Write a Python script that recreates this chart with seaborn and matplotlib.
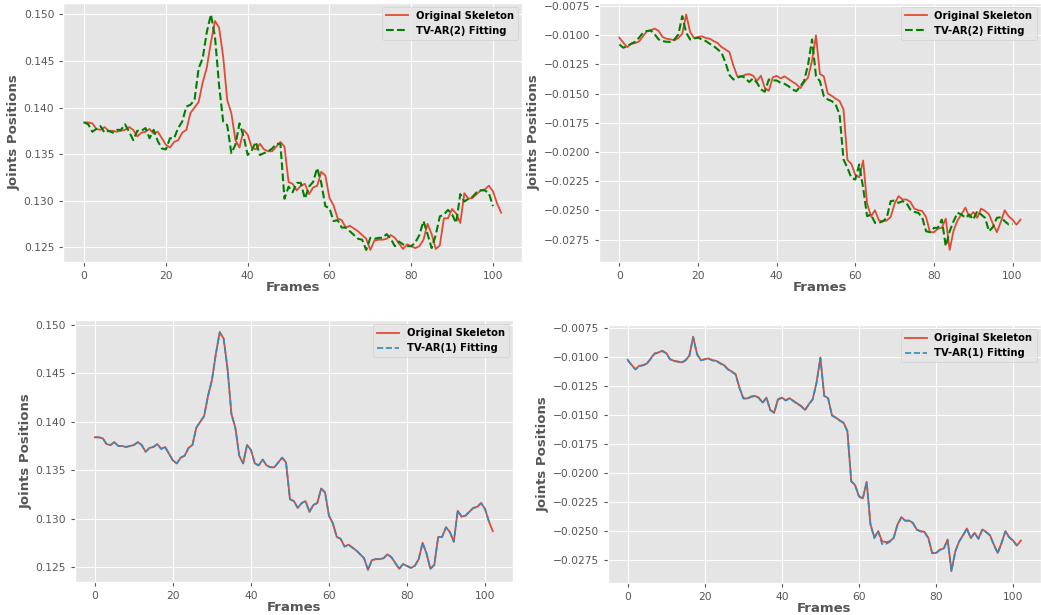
import matplotlib
matplotlib.use("Agg")
import matplotlib.pyplot as plt
import seaborn as sns
import numpy as np

# ---------------- data ----------------
orig_a = [0.1384, 0.1384, 0.1383, 0.1377, 0.1376, 0.1379, 0.1375, 0.1375, 0.1374, 0.1375,
          0.1376, 0.1379, 0.1376, 0.1369, 0.1373, 0.1374, 0.1377, 0.1372, 0.1374, 0.1367,
          0.1360, 0.1357, 0.1363, 0.1365, 0.1373, 0.1376, 0.1394, 0.1400, 0.1406, 0.1427,
          0.1443, 0.1470, 0.1493, 0.1486, 0.1455, 0.1408, 0.1394, 0.1365, 0.1357, 0.1376,
          0.1371, 0.1357, 0.1355, 0.1361, 0.1355, 0.1353, 0.1353, 0.1358, 0.1363, 0.1358,
          0.1320, 0.1318, 0.1311, 0.1316, 0.1318, 0.1307, 0.1314, 0.1316, 0.1331, 0.1327,
          0.1303, 0.1295, 0.1281, 0.1279, 0.1271, 0.1273, 0.1270, 0.1267, 0.1263, 0.1259,
          0.1247, 0.1257, 0.1258, 0.1258, 0.1259, 0.1263, 0.1260, 0.1254, 0.1248, 0.1253,
          0.1251, 0.1249, 0.1251, 0.1258, 0.1275, 0.1264, 0.1248, 0.1252, 0.1281, 0.1281,
          0.1291, 0.1286, 0.1276, 0.1308, 0.1302, 0.1303, 0.1307, 0.1311, 0.1312, 0.1316,
          0.1310, 0.1297, 0.1287]

fit2_a = [0.1384, 0.1382, 0.1374, 0.1377, 0.1380, 0.1373, 0.1375, 0.1373, 0.1376, 0.1376,
          0.1382, 0.1374, 0.1365, 0.1375, 0.1375, 0.1378, 0.1367, 0.1376, 0.1364, 0.1356,
          0.1355, 0.1367, 0.1367, 0.1378, 0.1385, 0.1401, 0.1403, 0.1408, 0.1442, 0.1453,
          0.1481, 0.1500, 0.1476, 0.1424, 0.1385, 0.1381, 0.1351, 0.1360, 0.1383, 0.1369,
          0.1349, 0.1354, 0.1363, 0.1349, 0.1351, 0.1353, 0.1356, 0.1361, 0.1361, 0.1302,
          0.1315, 0.1309, 0.1319, 0.1319, 0.1302, 0.1315, 0.1320, 0.1335, 0.1319, 0.1294,
          0.1292, 0.1278, 0.1279, 0.1271, 0.1271, 0.1267, 0.1263, 0.1259, 0.1258, 0.1247,
          0.1260, 0.1259, 0.1260, 0.1260, 0.1264, 0.1259, 0.1251, 0.1256, 0.1253, 0.1251,
          0.1251, 0.1255, 0.1263, 0.1278, 0.1264, 0.1249, 0.1263, 0.1283, 0.1285, 0.1290,
          0.1285, 0.1276, 0.1307, 0.1299, 0.1302, 0.1304, 0.1309, 0.1311, 0.1311, 0.1308,
          0.1294]

fit1_a = [0.1384, 0.1384, 0.1383, 0.1377, 0.1376, 0.1379, 0.1375, 0.1375, 0.1374, 0.1375,
          0.1376, 0.1379, 0.1376, 0.1369, 0.1373, 0.1374, 0.1377, 0.1372, 0.1374, 0.1367,
          0.1360, 0.1357, 0.1363, 0.1365, 0.1373, 0.1376, 0.1394, 0.1400, 0.1406, 0.1427,
          0.1443, 0.1470, 0.1492, 0.1486, 0.1455, 0.1408, 0.1394, 0.1365, 0.1357, 0.1376,
          0.1371, 0.1357, 0.1355, 0.1361, 0.1355, 0.1353, 0.1353, 0.1358, 0.1363, 0.1358,
          0.1320, 0.1318, 0.1311, 0.1316, 0.1318, 0.1307, 0.1314, 0.1316, 0.1331, 0.1327,
          0.1303, 0.1295, 0.1281, 0.1279, 0.1271, 0.1273, 0.1270, 0.1267, 0.1263, 0.1259,
          0.1247, 0.1257, 0.1258, 0.1258, 0.1259, 0.1263, 0.1260, 0.1254, 0.1248, 0.1253,
          0.1251, 0.1249, 0.1251, 0.1258, 0.1275, 0.1264, 0.1248, 0.1252, 0.1281, 0.1281,
          0.1291, 0.1286, 0.1276, 0.1308, 0.1302, 0.1303, 0.1307, 0.1311, 0.1312, 0.1316,
          0.1310, 0.1297]

orig_b = [-0.01021, -0.01064, -0.01102, -0.01073, -0.01067, -0.01053, -0.01009, -0.00966, -0.00957, -0.00943,
          -0.00963, -0.01015, -0.01030, -0.01035, -0.01044, -0.01024, -0.00986, -0.00822, -0.00972, -0.01024,
          -0.01015, -0.01009, -0.01024, -0.01030, -0.01050, -0.01067, -0.01102, -0.01122, -0.01145, -0.01260,
          -0.01352, -0.01355, -0.01338, -0.01332, -0.01347, -0.01390, -0.01347, -0.01453, -0.01476, -0.01361,
          -0.01347, -0.01370, -0.01352, -0.01375, -0.01398, -0.01419, -0.01453, -0.01404, -0.01361, -0.01217,
          -0.01001, -0.01332, -0.01352, -0.01499, -0.01519, -0.01543, -0.01563, -0.01635, -0.02067, -0.02102,
          -0.02197, -0.02217, -0.02073, -0.02442, -0.02551, -0.02499, -0.02586, -0.02594, -0.02586, -0.02557,
          -0.02442, -0.02378, -0.02407, -0.02407, -0.02427, -0.02485, -0.02499, -0.02505, -0.02557, -0.02687,
          -0.02687, -0.02658, -0.02649, -0.02571, -0.02839, -0.02672, -0.02586, -0.02534, -0.02476, -0.02557,
          -0.02514, -0.02563, -0.02485, -0.02505, -0.02534, -0.02615, -0.02687, -0.02600, -0.02499, -0.02551,
          -0.02580, -0.02623, -0.02580]

fit2_b = [-0.01079, -0.01107, -0.01093, -0.01073, -0.01056, -0.01021, -0.00979, -0.00964, -0.00959, -0.00993,
          -0.01036, -0.01050, -0.01056, -0.01056, -0.01036, -0.00993, -0.00836, -0.00979, -0.01036, -0.01027,
          -0.01021, -0.01036, -0.01050, -0.01073, -0.01093, -0.01121, -0.01150, -0.01236, -0.01341, -0.01379,
          -0.01364, -0.01350, -0.01364, -0.01401, -0.01370, -0.01407, -0.01464, -0.01484, -0.01379, -0.01387,
          -0.01387, -0.01407, -0.01416, -0.01436, -0.01464, -0.01479, -0.01440, -0.01390, -0.01250, -0.01036,
          -0.01350, -0.01393, -0.01521, -0.01550, -0.01564, -0.01593, -0.01679, -0.02064, -0.02136, -0.02221,
          -0.02236, -0.02107, -0.02307, -0.02550, -0.02536, -0.02607, -0.02607, -0.02593, -0.02564, -0.02421,
          -0.02416, -0.02436, -0.02421, -0.02436, -0.02493, -0.02513, -0.02521, -0.02559, -0.02679, -0.02687,
          -0.02650, -0.02650, -0.02579, -0.02807, -0.02679, -0.02593, -0.02521, -0.02536, -0.02564, -0.02536,
          -0.02579, -0.02507, -0.02536, -0.02564, -0.02679, -0.02643, -0.02564, -0.02559, -0.02593, -0.02621,
          -0.02616]

fit1_b = [-0.01025, -0.01066, -0.01105, -0.01076, -0.01069, -0.01055, -0.01012, -0.00969, -0.00960, -0.00946,
          -0.00966, -0.01018, -0.01033, -0.01038, -0.01047, -0.01027, -0.00989, -0.00826, -0.00975, -0.01027,
          -0.01018, -0.01012, -0.01027, -0.01033, -0.01053, -0.01070, -0.01105, -0.01125, -0.01148, -0.01263,
          -0.01355, -0.01358, -0.01341, -0.01335, -0.01350, -0.01393, -0.01350, -0.01456, -0.01479, -0.01364,
          -0.01350, -0.01373, -0.01355, -0.01378, -0.01401, -0.01422, -0.01456, -0.01407, -0.01364, -0.01220,
          -0.01005, -0.01335, -0.01355, -0.01502, -0.01522, -0.01546, -0.01566, -0.01638, -0.02070, -0.02105,
          -0.02200, -0.02220, -0.02076, -0.02445, -0.02560, -0.02502, -0.02610, -0.02610, -0.02592, -0.02560,
          -0.02445, -0.02381, -0.02410, -0.02410, -0.02430, -0.02488, -0.02502, -0.02508, -0.02560, -0.02690,
          -0.02690, -0.02661, -0.02652, -0.02574, -0.02845, -0.02675, -0.02589, -0.02537, -0.02479, -0.02560,
          -0.02517, -0.02566, -0.02488, -0.02508, -0.02537, -0.02618, -0.02690, -0.02603, -0.02502, -0.02554,
          -0.02583, -0.02626]

label_orig = "Original Skeleton"
label_ar2 = "TV-AR(2) Fitting"
label_ar1 = "TV-AR(1) Fitting"
xlabel = "Frames"
ylabel = "Joints Positions"

# ---------------- style ----------------
plt.style.use("ggplot")
plt.rcParams["font.family"] = ["DejaVu Sans"]

RED = "#E24A33"
BLUE = "#348ABD"
GREEN = "green"

W, H = 1041, 615
fig = plt.figure(figsize=(W / 100, H / 100), dpi=100)


def rect(l, t, r, b):
    return [l / W, 1 - b / H, (r - l) / W, (b - t) / H]


ax_tl = fig.add_axes(rect(63.3, 2.7, 522.0, 261.7))
ax_tr = fig.add_axes(rect(599.3, 2.7, 1040.5, 261.7))
ax_bl = fig.add_axes(rect(75.0, 320.0, 512.7, 581.7))
ax_br = fig.add_axes(rect(608.0, 325.0, 1040.5, 583.0))

panels = [
    (ax_tl, orig_a, fit2_a, GREEN, label_ar2, 1.5),
    (ax_tr, orig_b, fit2_b, GREEN, label_ar2, 1.5),
    (ax_bl, orig_a, fit1_a, BLUE, label_ar1, 1.2),
    (ax_br, orig_b, fit1_b, BLUE, label_ar1, 1.2),
]

for ax, orig, fit, fcol, flabel, flw in panels:
    sns.lineplot(x=np.arange(len(orig)), y=orig, ax=ax, color=RED,
                 linewidth=1.3, label=label_orig)
    sns.lineplot(x=np.arange(len(fit)), y=fit, ax=ax, color=fcol,
                 linewidth=flw, linestyle="--", label=flabel)
    ax.set_xlabel(xlabel, fontsize=9.5, fontweight="bold", color="#555555", labelpad=0)
    ax.set_ylabel(ylabel, fontsize=9.5, fontweight="bold", color="#555555", labelpad=2)
    ax.tick_params(axis="both", labelsize=7.7, colors="#555555", length=3)
    ax.set_xticks([0, 20, 40, 60, 80, 100])
    ax.legend(loc="upper right", prop={"weight": "bold", "size": 7.2},
              borderaxespad=0.4, handlelength=2.2)

ax_tl.set_yticks([0.125, 0.130, 0.135, 0.140, 0.145, 0.150])
ax_bl.set_yticks([0.125, 0.130, 0.135, 0.140, 0.145, 0.150])
for ax in (ax_tr, ax_br):
    ax.set_yticks([-0.0275, -0.025, -0.0225, -0.02, -0.0175, -0.015, -0.0125, -0.01, -0.0075])

fig.savefig("out.png", dpi=100)
